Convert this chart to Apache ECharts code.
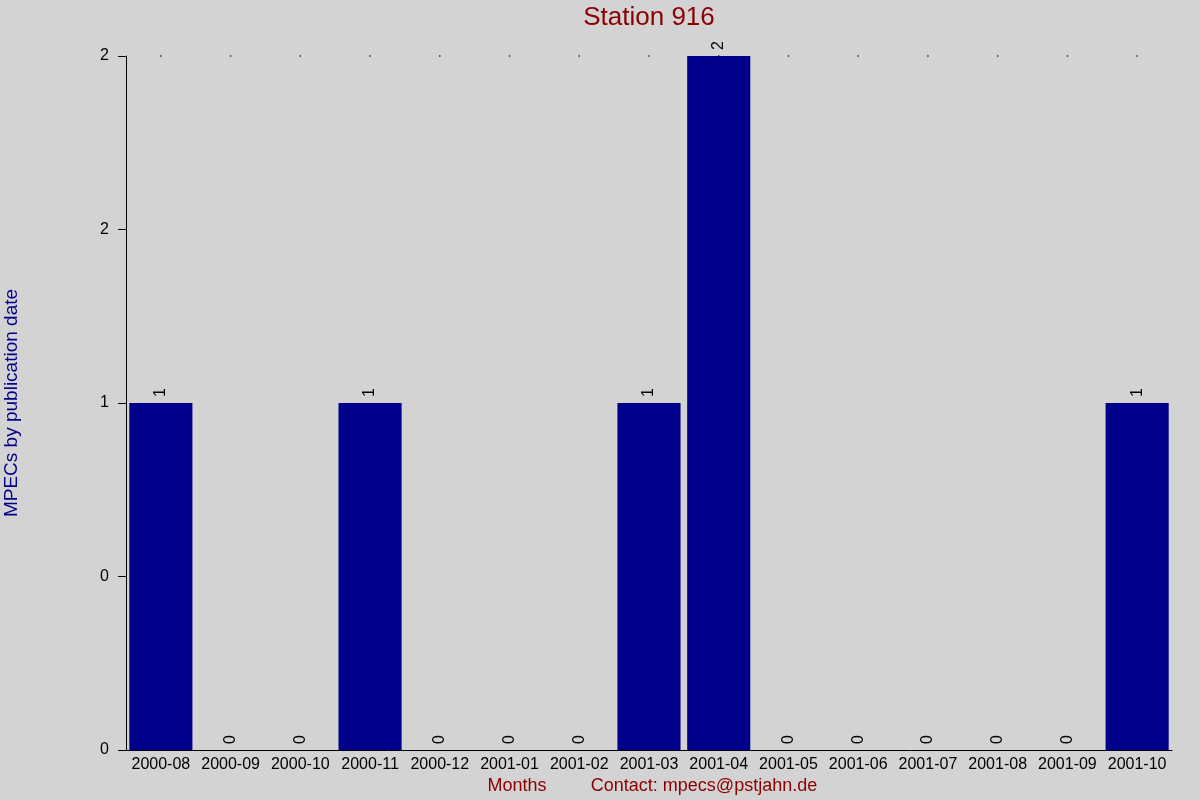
<!DOCTYPE html>
<html>
<head>
<meta charset="utf-8">
<script src="https://cdn.jsdelivr.net/npm/echarts@6/dist/echarts.min.js"></script>
<style>html,body{margin:0;padding:0;background:#d3d3d3;}#c{width:1200px;height:800px;}</style>
</head>
<body>
<div id="c"></div>
<script>
const categories = ['2000-08','2000-09','2000-10','2000-11','2000-12','2001-01','2001-02','2001-03','2001-04','2001-05','2001-06','2001-07','2001-08','2001-09','2001-10'];
const mpecCounts = [1,0,0,1,0,0,0,1,2,0,0,0,0,0,1];
const titleText = 'Station 916';
const yAxisTitle = 'MPECs by publication date';
const xAxisTitle = 'Months';
const contactText = 'Contact: mpecs@pstjahn.de';
const yMax = 2;
const yInterval = 0.5;

function roundHalfEven(v){
  const f = Math.floor(v);
  const d = v - f;
  if (Math.abs(d - 0.5) < 1e-9) return (f % 2 === 0) ? f : f + 1;
  return Math.round(v);
}

const chart = echarts.init(document.getElementById('c'));
const font = 'Liberation Sans, Arial, sans-serif';
chart.setOption({
  backgroundColor: '#d3d3d3',
  animation: false,
  title: { show: false },
  grid: { left: 126, right: 28, top: 56, bottom: 50, containLabel: false, outerBoundsMode: 'none' },
  xAxis: {
    type: 'category', data: categories,
    axisLine: { lineStyle: { color: '#000', width: 1 } },
    axisTick: { show: false },
    axisLabel: { color: '#000', fontSize: 16, fontFamily: font, margin: 7, interval: 0 },
    splitLine: { show: false }
  },
  yAxis: {
    type: 'value', min: 0, max: yMax, interval: yInterval,
    name: yAxisTitle, nameLocation: 'middle', nameGap: 105, nameRotate: 90,
    nameTextStyle: { color: '#00008b', fontSize: 19, fontFamily: font },
    axisLine: { show: true, lineStyle: { color: '#000', width: 1 } },
    axisTick: { show: true, length: 8, lineStyle: { color: '#000' } },
    axisLabel: { color: '#000', fontSize: 16, fontFamily: font, margin: 17, formatter: v => String(roundHalfEven(v)) },
    splitLine: { show: false }
  },
  series: [
    {
      type: 'bar', data: mpecCounts, barCategoryGap: '9.5%',
      itemStyle: { color: '#00008b' },
      label: {
        show: true, position: 'top', rotate: 90, distance: 6,
        align: 'left', verticalAlign: 'middle',
        color: '#000', fontSize: 16, fontFamily: font
      }
    },
    {
      type: 'scatter', data: categories.map(() => yMax), symbol: 'rect', symbolSize: 1.5,
      itemStyle: { color: '#000' }, silent: true
    }
  ],
  graphic: [
    { type: 'text', x: 649, y: 18, style: { text: titleText, fill: '#8b0000', font: '26px ' + font, textAlign: 'center', textVerticalAlign: 'middle' } },
    { type: 'text', x: 517, y: 786, style: { text: xAxisTitle, fill: '#8b0000', font: '18px ' + font, textAlign: 'center', textVerticalAlign: 'middle' } },
    { type: 'text', x: 704, y: 786, style: { text: contactText, fill: '#8b0000', font: '18px ' + font, textAlign: 'center', textVerticalAlign: 'middle' } }
  ]
});
</script>
</body>
</html>
